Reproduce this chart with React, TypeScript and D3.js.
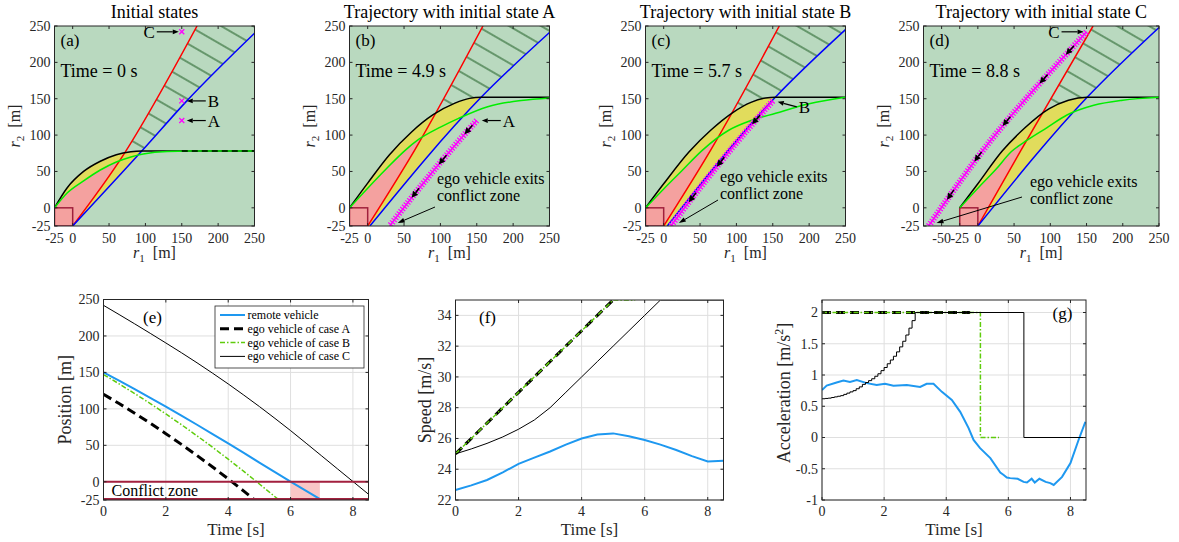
import React from 'react';
import * as d3 from 'd3';

type Pt = [number, number];

const FONT = '"Liberation Serif", "Times New Roman", Times, serif';
const INK = '#262626';
const BG = '#b9d9bf';
const PINK = '#f4a19f';
const YELLOW = '#e1dc5c';
const MAROON = '#a3203f';
const HATCH = '#2e6b34';

// ---- ticks ----
const R_TICKS = [-25, 0, 50, 100, 150, 200, 250];
const R_TICKS_D = [-50, -25, 0, 50, 100, 150, 200, 250];
const T_TICKS = [0, 2, 4, 6, 8];
const POS_TICKS = [-25, 0, 50, 100, 150, 200, 250];
const SPEED_TICKS = [22, 24, 26, 28, 30, 32, 34];
const ACC_TICKS = [-1, -0.5, 0, 0.5, 1, 1.5, 2];

// ---- top row: set boundaries in (r1, r2) ----
const BLACK_A: Pt[] = [[-25, 0], [-8, 27], [15, 50], [38, 64], [60, 73], [80, 77], [95, 78], [250, 78]];
const GREEN_A: Pt[] = [[-25, 0], [-8, 20], [15, 37], [38, 52], [60, 63], [80, 70], [97, 74], [130, 77.5], [160, 78], [250, 78]];
const RED_A: Pt[] = [[0, -25], [68, 70], [171, 250]];
const BLUE_A: Pt[] = [[0, -25], [95, 78], [156, 146], [250, 240]];
const DASH_A: Pt[] = [[150, 78], [250, 78]];

const BLACK_B: Pt[] = [[-25, 0], [0, 34], [30, 73], [60, 104], [90, 128], [120, 144], [140, 150.5], [156, 152], [250, 152]];
const GREEN_B: Pt[] = [[-25, 0], [0, 27], [25, 53], [51.5, 79], [70, 94], [100, 111], [125, 123], [165, 139], [211, 147.5], [250, 151]];
const RED_B: Pt[] = [[0, -25], [65, 80], [158.5, 250]];
const BLUE_B: Pt[] = [[3, -25], [156, 152], [250, 241]];

const BLACK_C: Pt[] = [[-25, 0], [0, 33], [35, 77], [65, 107], [95, 131], [120, 145], [140, 151], [153.5, 152], [250, 152]];
const GREEN_C: Pt[] = [[-25, 0], [0, 26], [25, 51], [53, 79], [90, 107], [120, 120], [154, 130], [200, 143], [250, 152]];
const RED_C: Pt[] = [[0, -25], [65, 80], [159, 250]];
const BLUE_C: Pt[] = [[5, -25], [153.5, 152], [250, 245]];

const BLACK_D: Pt[] = [[-25, 0], [0, 33], [33.6, 78], [65, 110], [98, 136], [125, 148], [150.8, 152], [250, 152]];
const GREEN_D: Pt[] = [[-25, 0], [0, 27], [25, 53], [46, 77], [68, 93], [95, 110], [123, 127.6], [160, 141], [200, 148], [250, 152]];
const RED_D: Pt[] = [[0, -25], [60, 80], [159, 250]];
const BLUE_D: Pt[] = [[0, -25], [150.8, 152], [250, 248]];

// ---- bottom row: time histories ----
const REMOTE_T = [0, 0.5, 1, 1.5, 2, 2.5, 3, 3.5, 4, 4.5, 5, 5.5, 6, 6.5, 7, 7.5, 8, 8.5, 8.8];
const REMOTE_POS = [150, 138.6, 127.0, 115.1, 103.0, 90.7, 78.2, 65.5, 52.6, 39.5, 26.3, 13.2, 0.2, -12.6, -25.3, -37.8, -50.2, -62.4, -69.8];
const EGO_A_T = [0, 0.5, 1, 1.5, 2, 2.5, 3, 3.5, 4, 4.5, 4.85];
const EGO_A_POS = [120, 107.3, 94, 80.3, 66, 51.3, 36, 20.3, 4, -12.8, -25];
const EGO_B_T = [0, 0.5, 1, 1.5, 2, 2.5, 3, 3.5, 4, 4.5, 5, 5.5, 5.63];
const EGO_B_POS = [147, 134.3, 121, 107.3, 93, 78.3, 63, 47.3, 31, 14.3, -3, -20.5, -25];
const EGO_C_T = [0, 0.5, 1, 1.5, 2, 2.5, 3, 3.5, 4, 4.5, 5, 5.5, 6, 6.5, 7, 7.5, 8, 8.5, 8.73];
const EGO_C_POS = [242, 229.4, 216.6, 203.6, 190.4, 177.0, 163.2, 148.9, 134.2, 118.9, 103.2, 86.9, 70.2, 52.9, 35.4, 17.9, 0.4, -17.1, -25];
const CONFLICT_T = [6.0, 6.94];

const SPEED_T = [0, 0.5, 1, 1.5, 2, 2.5, 3, 3.5, 4, 4.5, 5, 5.5, 6, 6.5, 7, 7.5, 8, 8.5];
const REMOTE_SPEED = [22.65, 22.95, 23.3, 23.8, 24.35, 24.75, 25.15, 25.6, 26.0, 26.25, 26.33, 26.15, 25.9, 25.6, 25.25, 24.85, 24.5, 24.55];
const EGO_A_SPEED_T = [0, 0.5, 1, 1.5, 2, 2.5, 3, 3.5, 4, 4.5, 5];
const EGO_A_SPEED = [25, 26, 27, 28, 29, 30, 31, 32, 33, 34, 35];
const EGO_B_SPEED_T = [0, 0.5, 1, 1.5, 2, 2.5, 3, 3.5, 4, 4.5, 5, 5.5, 5.7];
const EGO_B_SPEED = [25, 26, 27, 28, 29, 30, 31, 32, 33, 34, 35, 35, 35];
const EGO_C_SPEED = [25, 25.32, 25.68, 26.1, 26.6, 27.2, 28.0, 29.0, 30.0, 31.0, 32.0, 33.0, 34.0, 35, 35, 35, 35, 35];

const REMOTE_ACC_T = [0, 0.15, 0.47, 0.69, 0.9, 1.12, 1.44, 1.76, 2.03, 2.3, 2.73, 3.16, 3.37, 3.59, 3.86, 4.18, 4.45, 4.72, 4.88, 5.09, 5.42, 5.74, 5.85, 5.95, 6.06, 6.3, 6.49, 6.6, 6.75, 6.85, 7.0, 7.2, 7.35, 7.46, 7.73, 8.0, 8.26, 8.48];
const REMOTE_ACC = [0.76, 0.83, 0.88, 0.91, 0.89, 0.92, 0.87, 0.84, 0.86, 0.83, 0.84, 0.81, 0.86, 0.86, 0.73, 0.6, 0.41, 0.15, -0.04, -0.17, -0.33, -0.56, -0.6, -0.64, -0.65, -0.66, -0.71, -0.72, -0.66, -0.72, -0.66, -0.71, -0.73, -0.76, -0.63, -0.41, -0.04, 0.25];
const EGO_A_ACC_T = [0, 4.77];
const EGO_A_ACC = [2, 2];
const EGO_B_ACC_T = [0, 5.1, 5.7];
const EGO_B_ACC = [2, 0, 0];
const EGO_C_ACC_T = [0, 0.1, 0.2, 0.3, 0.4, 0.5, 0.6, 0.7, 0.8, 0.9, 1.0, 1.1, 1.2, 1.3, 1.4, 1.5, 1.6, 1.7, 1.8, 1.9, 2.0, 2.1, 2.2, 2.3, 2.4, 2.5, 2.6, 2.7, 2.8, 2.9, 3.0, 6.5, 8.5];
const EGO_C_ACC = [0.62, 0.625, 0.63, 0.64, 0.65, 0.66, 0.67, 0.69, 0.71, 0.73, 0.75, 0.78, 0.81, 0.85, 0.88, 0.91, 0.94, 0.98, 1.02, 1.07, 1.12, 1.18, 1.24, 1.3, 1.37, 1.45, 1.54, 1.64, 1.75, 1.87, 2.0, 0, 0];

const LEGEND = ['remote vehicle', 'ego vehicle of case A', 'ego vehicle of case B', 'ego vehicle of case C'];

const STYLE = {
  remote: { stroke: '#1e98f0', width: 2, dash: undefined as string | undefined },
  A: { stroke: '#000', width: 3, dash: '9 5' },
  B: { stroke: '#5fcc0c', width: 1.5, dash: '5 2 1.5 2' },
  C: { stroke: '#000', width: 1, dash: undefined as string | undefined },
};

// trajectories in (r1, r2): remote position vs ego position at the same time
const remoteAt = d3.scaleLinear().domain(REMOTE_T).range(REMOTE_POS);
const trajectory = (t: number[], pos: number[]): Pt[] => t.map((ti, i) => [remoteAt(ti), pos[i]] as Pt);
const TRAJ_A = trajectory(EGO_A_T, EGO_A_POS);
const TRAJ_B = trajectory(EGO_B_T, EGO_B_POS);
const TRAJ_C = trajectory(EGO_C_T, EGO_C_POS);

const zip = (a: number[], b: number[]): Pt[] => a.map((v, i) => [v, b[i]] as Pt);

function Arrow({ from, to, head = 6, half = 2.3, width = 1 }: any) {
  const dx = to[0] - from[0], dy = to[1] - from[1];
  const len = Math.hypot(dx, dy) || 1;
  const ux = dx / len, uy = dy / len;
  const bx = to[0] - ux * head, by = to[1] - uy * head;
  return (
    <g>
      <line x1={from[0]} y1={from[1]} x2={bx} y2={by} stroke="#000" strokeWidth={width} />
      <path d={`M${to[0]},${to[1]}L${bx - uy * half},${by + ux * half}L${bx + uy * half},${by - ux * half}Z`} fill="#000" />
    </g>
  );
}

const PANELS = [
  {
    id: 'a', x0: 54.5, x1: 254.5, xDomain: [-25, 250], xTicks: R_TICKS, title: 'Initial states', tag: '(a)', time: '0',
    black: BLACK_A, green: GREEN_A, red: RED_A, blue: BLUE_A, dash: DASH_A,
    markers: [
      { pt: TRAJ_C[0], label: 'C', side: -1, dy: 0 },
      { pt: TRAJ_B[0], label: 'B', side: 1, dy: 0 },
      { pt: TRAJ_A[0], label: 'A', side: 1, dy: 0 },
    ],
  },
  {
    id: 'b', x0: 349.5, x1: 549.5, xDomain: [-25, 250], xTicks: R_TICKS, title: 'Trajectory with initial state A', tag: '(b)', time: '4.9',
    black: BLACK_B, green: GREEN_B, red: RED_B, blue: BLUE_B, traj: TRAJ_A, arrowIdx: [1, 4, 7],
    callout: { label: 'A', side: 1, dy: 0 }, note: { tx: 437, ty: 184, tail: [435, 207] },
  },
  {
    id: 'c', x0: 645.5, x1: 845.5, xDomain: [-25, 250], xTicks: R_TICKS, title: 'Trajectory with initial state B', tag: '(c)', time: '5.7',
    black: BLACK_C, green: GREEN_C, red: RED_C, blue: BLUE_C, traj: TRAJ_B, arrowIdx: [2, 6, 9],
    callout: { label: 'B', side: 1, dy: 6 }, note: { tx: 720, ty: 182, tail: [718, 200] },
  },
  {
    id: 'd', x0: 923.5, x1: 1159, xDomain: [-75, 250], xTicks: R_TICKS_D, title: 'Trajectory with initial state C', tag: '(d)', time: '8.8',
    black: BLACK_D, green: GREEN_D, red: RED_D, blue: BLUE_D, traj: TRAJ_C, arrowIdx: [2, 5, 9, 12, 15],
    callout: { label: 'C', side: -1, dy: 0 }, note: { tx: 1030, ty: 187, tail: [1022, 197] },
  },
];

function Callout({ x, y, label, side, dy }: any) {
  const tip: Pt = side > 0 ? [x + 5, y + dy * 0.15] : [x - 3, y];
  const tail: Pt = side > 0 ? [x + 24, y + dy] : [x - 25, y];
  return (
    <g>
      <Arrow from={tail} to={tip} head={6} half={2.4} width={1.2} />
      <text x={side > 0 ? x + 26 : x - 27} y={y + dy + 6} fontSize={17} textAnchor={side > 0 ? 'start' : 'end'} fill="#000">{label}</text>
    </g>
  );
}

function TopPanel({ p }: any) {
  const T = 26, B = 226;
  const L = p.x0, R = p.x1;
  const xs = d3.scaleLinear().domain(p.xDomain).range([L, R]);
  const ys = d3.scaleLinear().domain([-25, 250]).range([B, T]);
  const curve = d3.line<Pt>().x(d => xs(d[0])).y(d => ys(d[1])).curve(d3.curveMonotoneX);
  const poly = d3.line<Pt>().x(d => xs(d[0])).y(d => ys(d[1]));
  const last = (pts: Pt[]) => pts[pts.length - 1];
  const leftOf = (pts: Pt[]) => `${curve(pts)}L${R},${T}L${L},${T}L${L},${B}Z`;
  const rightOf = (pts: Pt[]) => `${curve(pts)}L${R},${T}L${R},${B}Z`;
  const below = (pts: Pt[]) => `${curve(pts)}L${xs(last(pts)[0])},${B}L${xs(pts[0][0])},${B}Z`;
  const above = (pts: Pt[]) => `${curve(pts)}L${R},${T}L${L},${T}L${L},${ys(pts[0][1])}Z`;
  const px = (d: Pt): Pt => [xs(d[0]), ys(d[1])];
  const id = p.id;
  const cx = (L + R) / 2;

  const trajArrows = (p.arrowIdx || []).map((i: number) => {
    const P = px(p.traj[i]);
    const Q = px(p.traj[i + 1]);
    const len = Math.hypot(Q[0] - P[0], Q[1] - P[1]);
    const ux = (Q[0] - P[0]) / len, uy = (Q[1] - P[1]) / len;
    return <Arrow key={i} from={[P[0] - ux * 6, P[1] - uy * 6]} to={[P[0] + ux * 6, P[1] + uy * 6]} head={6.5} half={3.2} width={1.6} />;
  });

  return (
    <g>
      <defs>
        <clipPath id={`${id}-plot`}><rect x={L} y={T} width={R - L} height={B - T} /></clipPath>
        <clipPath id={`${id}-lb`}><path d={leftOf(p.blue)} /></clipPath>
        <clipPath id={`${id}-lr`}><path d={leftOf(p.red)} /></clipPath>
        <clipPath id={`${id}-rr`}><path d={rightOf(p.red)} /></clipPath>
        <clipPath id={`${id}-ab`}><path d={above(p.black)} /></clipPath>
      </defs>
      <text x={cx} y={17.5} fontSize={18} textAnchor="middle" fill="#000">{p.title}</text>
      <rect x={L} y={T} width={R - L} height={B - T} fill={BG} />
      <g clipPath={`url(#${id}-plot)`}>
        <g clipPath={`url(#${id}-lb)`}><path d={below(p.black)} fill={YELLOW} /></g>
        <g clipPath={`url(#${id}-lr)`}><path d={below(p.green)} fill={PINK} /></g>
        <g clipPath={`url(#${id}-ab)`}>
          <g clipPath={`url(#${id}-rr)`}><path d={leftOf(p.blue)} fill="url(#hatch)" /></g>
        </g>
        <rect x={xs(-25)} y={ys(0)} width={xs(0) - xs(-25)} height={ys(-25) - ys(0)} fill={PINK} stroke="#a0203c" strokeWidth={1.5} />
        <path d={curve(p.red) || ''} fill="none" stroke="#ff0000" strokeWidth={1.5} />
        <path d={curve(p.blue) || ''} fill="none" stroke="#0000ff" strokeWidth={1.5} />
        <path d={curve(p.black) || ''} fill="none" stroke="#000" strokeWidth={1.5} />
        <path d={curve(p.green) || ''} fill="none" stroke="#00ee00" strokeWidth={1.5} />
        {p.dash && <path d={poly(p.dash) || ''} fill="none" stroke="#000" strokeWidth={1.5} strokeDasharray="6 4" />}
        {p.traj && (
          <g>
            <path d={poly(p.traj) || ''} fill="none" stroke="#ff00ff" strokeWidth={1.6} />
            <path d={poly(p.traj) || ''} fill="none" stroke="#ff00ff" strokeWidth={6.5} strokeDasharray="1.2 1.6" />
          </g>
        )}
        {trajArrows}
        {(p.markers || []).map((m: any, i: number) => {
          const [mx, my] = px(m.pt);
          return (
            <g key={i} stroke="#ff00ff" strokeWidth={1.3}>
              <line x1={mx - 2.5} y1={my - 2.5} x2={mx + 2.5} y2={my + 2.5} />
              <line x1={mx - 2.5} y1={my + 2.5} x2={mx + 2.5} y2={my - 2.5} />
            </g>
          );
        })}
      </g>
      {(p.markers || []).map((m: any, i: number) => {
        const [mx, my] = px(m.pt);
        return <Callout key={i} x={mx} y={my} label={m.label} side={m.side} dy={m.dy} />;
      })}
      {p.callout && (() => {
        const [mx, my] = px(p.traj[0]);
        return <Callout x={mx} y={my} {...p.callout} />;
      })()}
      {p.note && (() => {
        const [ex, ey] = px(last(p.traj));
        return (
          <g>
            <text x={p.note.tx} y={p.note.ty} fontSize={16} fill="#000">ego vehicle exits</text>
            <text x={p.note.tx} y={p.note.ty + 17} fontSize={16} fill="#000">conflict zone</text>
            <Arrow from={p.note.tail} to={[ex + 8, ey - 3]} head={7} half={2.4} width={1} />
          </g>
        );
      })()}
      <text x={L + 6} y={46} fontSize={17} fill="#000">{p.tag}</text>
      <text x={L + 6} y={76.5} fontSize={18} fill="#000">{`Time = ${p.time} s`}</text>
      {/* frame and ticks */}
      <rect x={L} y={T} width={R - L} height={B - T} fill="none" stroke={INK} strokeWidth={1} />
      {p.xTicks.map((t: number) => (
        <g key={`x${t}`}>
          <line x1={xs(t)} x2={xs(t)} y1={B} y2={B - 3} stroke={INK} />
          <line x1={xs(t)} x2={xs(t)} y1={T} y2={T + 3} stroke={INK} />
          <text x={xs(t)} y={243} fontSize={14} textAnchor="middle" fill={INK}>{t}</text>
        </g>
      ))}
      {R_TICKS.map(t => (
        <g key={`y${t}`}>
          <line x1={L} x2={L + 3} y1={ys(t)} y2={ys(t)} stroke={INK} />
          <line x1={R} x2={R - 3} y1={ys(t)} y2={ys(t)} stroke={INK} />
          <text x={L - 4} y={ys(t) + 4.8} fontSize={14} textAnchor="end" fill={INK}>{t}</text>
        </g>
      ))}
      <text x={cx} y={258} fontSize={16} textAnchor="middle" fill={INK}>
        <tspan fontStyle="italic">r</tspan><tspan fontSize={11} dy={4}>1</tspan><tspan dy={-4}>{'\u2002[m]'}</tspan>
      </text>
      <text transform={`translate(${L - 35},${(T + B) / 2}) rotate(-90)`} fontSize={16} textAnchor="middle" fill={INK}>
        <tspan fontStyle="italic">r</tspan><tspan fontSize={11} dy={4}>2</tspan><tspan dy={-4}>{'\u2002[m]'}</tspan>
      </text>
    </g>
  );
}

function BottomPanel({ id, x0, x1, y0, y1, yDomain, yTicks, ylabel, ylabelX, children }: any) {
  const xs = d3.scaleLinear().domain([0, 8.5]).range([x0, x1]);
  const ys = d3.scaleLinear().domain(yDomain).range([y1, y0]);
  const ln = d3.line<Pt>().x(d => xs(d[0])).y(d => ys(d[1]));
  return (
    <g>
      <defs>
        <clipPath id={`${id}-clip`}><rect x={x0} y={y0} width={x1 - x0} height={y1 - y0} /></clipPath>
      </defs>
      <rect x={x0} y={y0} width={x1 - x0} height={y1 - y0} fill="#fff" />
      {T_TICKS.map(t => <line key={`gx${t}`} x1={xs(t)} x2={xs(t)} y1={y0} y2={y1} stroke="#dfdfdf" strokeWidth={1} />)}
      {yTicks.map((t: number) => <line key={`gy${t}`} x1={x0} x2={x1} y1={ys(t)} y2={ys(t)} stroke="#dfdfdf" strokeWidth={1} />)}
      <g clipPath={`url(#${id}-clip)`}>{children(xs, ys, ln)}</g>
      <rect x={x0} y={y0} width={x1 - x0} height={y1 - y0} fill="none" stroke={INK} strokeWidth={1} />
      {T_TICKS.map(t => (
        <g key={`x${t}`}>
          <line x1={xs(t)} x2={xs(t)} y1={y1} y2={y1 - 3} stroke={INK} />
          <line x1={xs(t)} x2={xs(t)} y1={y0} y2={y0 + 3} stroke={INK} />
          <text x={xs(t)} y={516} fontSize={14} textAnchor="middle" fill={INK}>{t}</text>
        </g>
      ))}
      {yTicks.map((t: number) => (
        <g key={`y${t}`}>
          <line x1={x0} x2={x0 + 3} y1={ys(t)} y2={ys(t)} stroke={INK} />
          <line x1={x1} x2={x1 - 3} y1={ys(t)} y2={ys(t)} stroke={INK} />
          <text x={x0 - 4} y={ys(t) + 4.8} fontSize={14} textAnchor="end" fill={INK}>{t}</text>
        </g>
      ))}
      <text x={(x0 + x1) / 2} y={535} fontSize={17} textAnchor="middle" fill={INK}>Time [s]</text>
      <text transform={`translate(${ylabelX},${(y0 + y1) / 2}) rotate(-90)`} fontSize={18} textAnchor="middle" fill={INK}>{ylabel}</text>
    </g>
  );
}

const series = (ln: any, pts: Pt[], s: any, curve?: any) => (
  <path d={(curve ? ln.curve(curve) : ln)(pts) || ''} fill="none" stroke={s.stroke} strokeWidth={s.width} strokeDasharray={s.dash} />
);

export default function App() {
  return (
    <svg width={1179} height={542} style={{ position: 'absolute', left: 0, top: 0, fontFamily: FONT }}>
      <defs>
        <pattern id="hatch" patternUnits="userSpaceOnUse" width={16} height={16} patternTransform="rotate(30)">
          <line x1={-1} y1={8} x2={17} y2={8} stroke={HATCH} strokeWidth={1.2} />
        </pattern>
      </defs>
      <rect x={0} y={0} width={1179} height={542} fill="#fff" />
      {PANELS.map(p => <TopPanel key={p.id} p={p} />)}

      {/* (e) position */}
      <BottomPanel id="e" x0={103.5} x1={368.5} y0={299.5} y1={500} yDomain={[-25, 250]} yTicks={POS_TICKS} ylabel="Position [m]" ylabelX={71}>
        {(xs: any, ys: any, ln: any) => (
          <g>
            <rect x={xs(CONFLICT_T[0])} y={ys(0)} width={xs(CONFLICT_T[1]) - xs(CONFLICT_T[0])} height={ys(-25) - ys(0)} fill="#f9c6c6" />
            {series(ln, zip(REMOTE_T, REMOTE_POS), STYLE.remote)}
            {series(ln, zip(EGO_A_T, EGO_A_POS), STYLE.A)}
            {series(ln, zip(EGO_B_T, EGO_B_POS), STYLE.B)}
            {series(ln, zip(EGO_C_T, EGO_C_POS), STYLE.C)}
            <line x1={xs(0)} x2={xs(8.5)} y1={ys(0)} y2={ys(0)} stroke={MAROON} strokeWidth={2} />
            <line x1={xs(0)} x2={xs(8.5)} y1={ys(-25) - 1} y2={ys(-25) - 1} stroke={MAROON} strokeWidth={2} />
            <text x={xs(0) + 8} y={ys(-12.5) + 5.5} fontSize={16} fill="#000">Conflict zone</text>
            <text x={143} y={323} fontSize={17} fill="#000">(e)</text>
            <g>
              <rect x={215} y={306} width={149} height={62} fill="#fff" stroke={INK} strokeWidth={0.8} />
              {LEGEND.map((name, i) => {
                const s = [STYLE.remote, STYLE.A, STYLE.B, STYLE.C][i];
                const yy = 315 + i * 13.8;
                return (
                  <g key={name}>
                    <line x1={220} x2={245} y1={yy} y2={yy} stroke={s.stroke} strokeWidth={s.width} strokeDasharray={s.dash} />
                    <text x={247.5} y={yy + 4} fontSize={12} fill="#000">{name}</text>
                  </g>
                );
              })}
            </g>
          </g>
        )}
      </BottomPanel>

      {/* (f) speed */}
      <BottomPanel id="f" x0={455.5} x1={723.5} y0={300} y1={500} yDomain={[22, 35]} yTicks={SPEED_TICKS} ylabel="Speed [m/s]" ylabelX={431}>
        {(xs: any, ys: any, ln: any) => (
          <g>
            {series(ln, zip(SPEED_T, REMOTE_SPEED), STYLE.remote)}
            {series(ln, zip(EGO_A_SPEED_T, EGO_A_SPEED), STYLE.A)}
            {series(ln, zip(EGO_B_SPEED_T, EGO_B_SPEED), STYLE.B)}
            {series(ln, zip(SPEED_T, EGO_C_SPEED), STYLE.C)}
            <text x={479} y={323} fontSize={17} fill="#000">(f)</text>
          </g>
        )}
      </BottomPanel>

      {/* (g) acceleration */}
      <BottomPanel id="g" x0={822} x1={1086} y0={300} y1={500} yDomain={[-1, 2.2]} yTicks={ACC_TICKS} ylabel="" ylabelX={790}>
        {(xs: any, ys: any, ln: any) => (
          <g>
            {series(ln, zip(REMOTE_ACC_T, REMOTE_ACC), STYLE.remote)}
            {series(ln, zip(EGO_A_ACC_T, EGO_A_ACC), STYLE.A)}
            {series(ln, zip(EGO_B_ACC_T, EGO_B_ACC), STYLE.B, d3.curveStepAfter)}
            {series(ln, zip(EGO_C_ACC_T, EGO_C_ACC), STYLE.C, d3.curveStepAfter)}
            <text x={1052.5} y={319} fontSize={17} fill="#000">(g)</text>
          </g>
        )}
      </BottomPanel>
      <text transform={`translate(790,393) rotate(-90)`} fontSize={18} textAnchor="middle" fill={INK}>
        Acceleration [m/s<tspan fontSize={12} dy={-7}>2</tspan><tspan dy={7}>]</tspan>
      </text>
    </svg>
  );
}
